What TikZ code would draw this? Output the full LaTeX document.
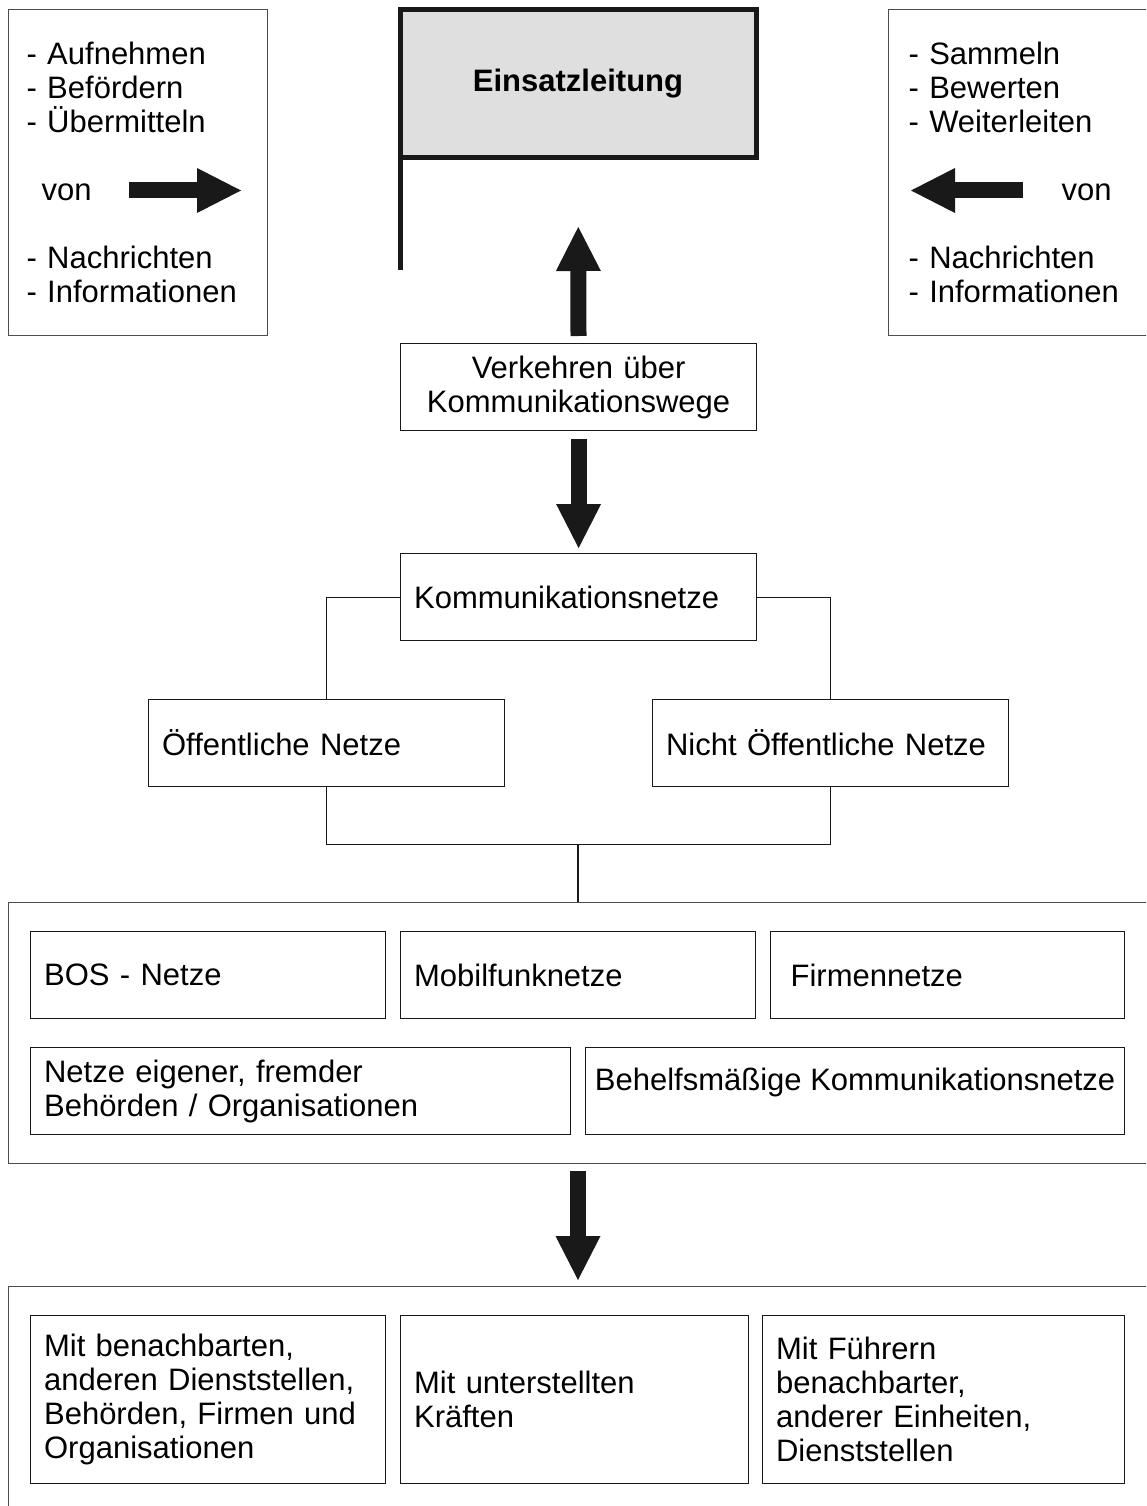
\documentclass[tikz,border=0pt]{standalone}
\usepackage{fontspec}
\setmainfont{Liberation Sans}
\usetikzlibrary{arrows.meta}

\begin{document}
\begin{tikzpicture}[x=1pt,y=-1pt,line width=1.2pt,font=\fontsize{31pt}{34pt}\selectfont,
    box node/.style={draw=black!90,anchor=north west,inner xsep=13.5pt,align=left,minimum height=87pt},
    frame node/.style={draw=black!70,anchor=north west,minimum width=1200pt},
    flag node/.style={draw=black!90,line width=5pt,fill=gray!25,outer sep=0pt,minimum width=356pt,minimum height=148.5pt,font=\fontsize{31pt}{34pt}\selectfont\bfseries},
    big arrow/.style={line width=16pt,draw=black!90,-{Triangle[width=45pt,length=44pt,line width=0pt]}}]

                    \useasboundingbox (0,0) rectangle (1146,1506);
                    \clip (0,0) rectangle (1146,1506);

                    % Fahne
                    \node (1) [flag node] at (578,83.75) {Einsatzleitung};
                    \coordinate (2) at (400,270);

                    % links und rechts oben
                    \node (3) [frame node,minimum width=259pt,minimum height=326pt,text width=223pt,inner xsep=18pt] at (8,9) {- Aufnehmen\\- Befördern\\- Übermitteln\\[34pt]\hspace*{15pt}von\\[34pt]- Nachrichten\\- Informationen};
                    \node (4) [frame node,minimum width=300pt,minimum height=326pt,text width=264pt,inner xsep=20pt,align=left] at (888,9) {- Sammeln\\- Bewerten\\- Weiterleiten\\[34pt]\hspace*{153pt}von\\[34pt]- Nachrichten\\- Informationen};
                    \coordinate (5) at (129,190.5);
                    \coordinate (6) at (241,190.5);
                    \coordinate (7) at (1023,190.5);
                    \coordinate (8) at (911,190.5);

                    % Mitte
                    \node (9) [box node,text width=329pt,align=center] at (400,343) {Verkehren über\\Kommunikationswege};
                    \node (10) [box node,text width=329pt] at (400,553) {Kommunikationsnetze};
                    \node (11) [box node,text width=329pt] at (148,699) {Öffentliche Netze};
                    \node (12) [box node,text width=329pt] at (652,699) {Nicht Öffentliche Netze};
                    \coordinate (13) at (578,844.5);

                    % Netze
                    \node (14) [frame node,minimum height=261pt] at (8,902) {};
                    \node (15) [box node,text width=328pt] at (30,931) {BOS - Netze};
                    \node (16) [box node,text width=328pt] at (400,931) {Mobilfunknetze};
                    \node (17) [box node,inner xsep=20pt,text width=314pt] at (770,931) {Firmennetze};
                    \node (18) [box node,text width=513pt] at (30,1047) {Netze eigener, fremder\\Behörden / Organisationen};
                    \node (19) [box node,inner xsep=8pt,minimum width=539pt,text depth=23.5pt] at (585,1047) {Behelfsmäßige Kommunikationsnetze};

                    % mit wem
                    \node (20) [frame node,minimum height=300pt] at (8,1286) {};
                    \node (21) [box node,text width=328pt,minimum height=168pt] at (30,1315) {Mit benachbarten,\\anderen Dienststellen,\\Behörden, Firmen und\\Organisationen};
                    \node (22) [box node,text width=321pt,minimum height=168pt] at (400,1315) {Mit unterstellten\\Kräften};
                    \node (23) [box node,text width=335pt,minimum height=168pt] at (762,1315) {Mit Führern\\benachbarter,\\anderer Einheiten,\\Dienststellen};

                    \draw[draw=black!90,line width=5pt] (1.south west) -- (2);
                    \draw[big arrow] (5) -- (6);
                    \draw[big arrow] (7) -- (8);
                    \draw[big arrow,shorten <=7pt,shorten >=69pt] (9) -- (1);
                    \draw[big arrow,shorten <=8pt,shorten >=5pt] (9) -- (10);

                    \draw[draw=black!90]
                    (10.west) -| (11.north)
                    (10.east) -| (12.north)
                    (11.south) |- (13) -| (12.south)
                    (13) -- (13 |- 14.north);

                    \draw[big arrow,shorten <=7pt,shorten >=6pt] (13 |- 14.south) -- (13 |- 20.north);
                \end{tikzpicture}
\end{document}
